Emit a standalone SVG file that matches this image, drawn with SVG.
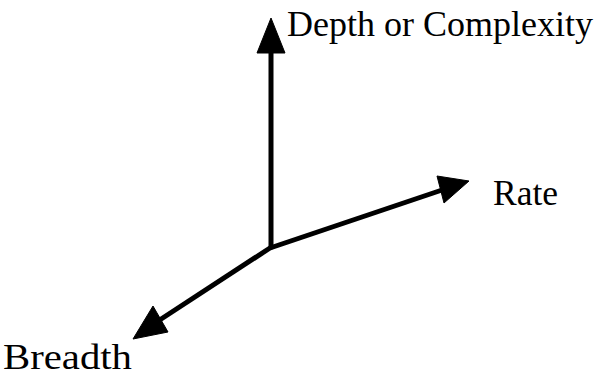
<svg xmlns="http://www.w3.org/2000/svg" width="602" height="378" viewBox="0 0 602 378">
<style>
.ax{stroke:#000;stroke-width:5;fill:none}
.hd{fill:#000;stroke:#000;stroke-width:1;stroke-linejoin:round}
.lb{font-family:"Liberation Serif","DejaVu Serif",serif;font-size:35px;fill:#000}
</style>
<rect width="602" height="378" fill="#fff"/>
<g id="connectors">
<line class="ax" x1="271" y1="249" x2="271" y2="48"/>
<polygon class="hd" points="271,18 257,53 285,53"/>
<line class="ax" x1="270" y1="248" x2="448" y2="188"/>
<polygon class="hd" points="469,181 437,176 444,203"/>
<line class="ax" x1="273" y1="246" x2="152" y2="325"/>
<polygon class="hd" points="133,339 153,306 168,332"/>
</g>
<g id="depth"><text class="lb" x="287" y="36" textLength="306" lengthAdjust="spacingAndGlyphs">Depth or Complexity</text></g>
<g id="rate"><text class="lb" x="493" y="205" textLength="65" lengthAdjust="spacingAndGlyphs">Rate</text></g>
<g id="breadth"><text class="lb" x="3" y="369" font-size="34" textLength="129" lengthAdjust="spacingAndGlyphs">Breadth</text></g>
</svg>
